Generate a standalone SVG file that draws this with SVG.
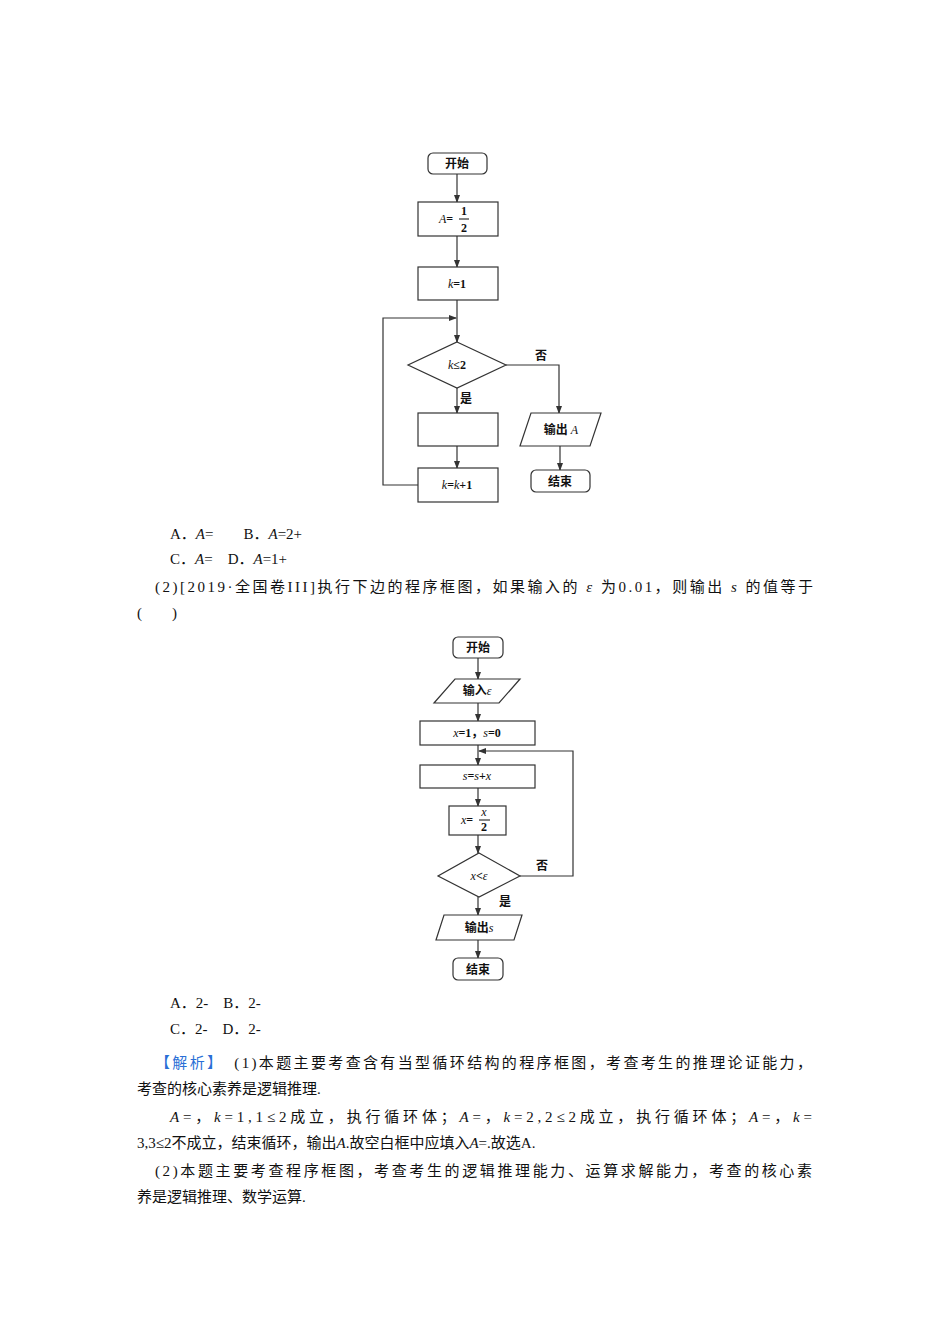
<svg xmlns="http://www.w3.org/2000/svg" width="950" height="1344" viewBox="0 0 950 1344">
<defs><marker id="ar" markerWidth="8" markerHeight="6" refX="7" refY="3" orient="auto" markerUnits="userSpaceOnUse"><path d="M0,0 L8,3 L0,6 Z" fill="#333"/></marker></defs>
<style>
.s{fill:#fff;stroke:#333;stroke-width:1.2}
.c{fill:none;stroke:#333;stroke-width:1.2;marker-end:url(#ar)}
.l{fill:none;stroke:#333;stroke-width:1.2}
.t{font-family:"Liberation Serif","Noto Sans CJK SC",serif;font-size:12px;text-anchor:middle;fill:#111;font-weight:bold}
.i{font-style:italic;font-weight:normal}
.b{font-family:"Liberation Serif","Noto Sans CJK SC",serif;font-size:15px;fill:#111}
</style>
<rect width="950" height="1344" fill="#fff"/>
<g id="connectors">
<path class="c" d="M457,174 V202"/><path class="c" d="M457,236 V267"/><path class="c" d="M457,300 V342"/>
<path class="c" d="M418,485 H383 V318 H456"/>
<path class="c" d="M506,365 H559 V413"/><path class="c" d="M457,388 V413"/><path class="c" d="M457,446 V468"/>
<path class="c" d="M560,446 V470"/>
<path class="c" d="M478,658 V679"/><path class="c" d="M478,703 V721"/><path class="c" d="M478,745 V765"/>
<path class="c" d="M520,876 H573 V751 H479"/>
<path class="c" d="M478,788 V806"/><path class="c" d="M478,835 V853"/><path class="c" d="M478,897 V915"/><path class="c" d="M478,940 V958"/>
</g>
<g id="n1"><rect class="s" x="428" y="153" width="59" height="21" rx="5"/><text class="t" x="457" y="168">开始</text></g>
<g id="n2"><rect class="s" x="418" y="202" width="80" height="34"/><text class="t" x="446" y="223"><tspan class="i">A</tspan>=</text><text class="t" x="464" y="215">1</text><line class="l" x1="459" y1="219" x2="469" y2="219"/><text class="t" x="464" y="232">2</text></g>
<g id="n3"><rect class="s" x="418" y="267" width="80" height="33"/><text class="t" x="457" y="288"><tspan class="i">k</tspan>=1</text></g>
<g id="n4"><polygon class="s" points="457,342 506,365 457,388 408,365"/><text class="t" x="457" y="369"><tspan class="i">k</tspan>≤2</text></g>
<text class="t" x="541" y="360">否</text><text class="t" x="466" y="403">是</text>
<g id="n5"><rect class="s" x="418" y="413" width="80" height="33"/></g>
<g id="n6"><rect class="s" x="418" y="468" width="80" height="34"/><text class="t" x="457" y="489"><tspan class="i">k</tspan>=<tspan class="i">k</tspan>+1</text></g>
<g id="n7"><polygon class="s" points="531,413 601,413 590,446 520,446"/><text class="t" x="561" y="434">输出 <tspan class="i">A</tspan></text></g>
<g id="n8"><rect class="s" x="531" y="470" width="59" height="22" rx="5"/><text class="t" x="560" y="486">结束</text></g>

<g id="m1"><rect class="s" x="453" y="637" width="50" height="21" rx="5"/><text class="t" x="478" y="652">开始</text></g>
<g id="m2"><polygon class="s" points="455,679 520,679 499,703 434,703"/><text class="t" x="477" y="695">输入<tspan class="i">ε</tspan></text></g>
<g id="m3"><rect class="s" x="420" y="721" width="115" height="24"/><text class="t" x="477" y="737"><tspan class="i">x</tspan>=1，<tspan class="i">s</tspan>=0</text></g>
<g id="m4"><rect class="s" x="420" y="765" width="115" height="23"/><text class="t" x="477" y="780" font-size="10"><tspan class="i">s</tspan>=<tspan class="i">s</tspan>+<tspan class="i">x</tspan></text></g>
<g id="m5"><rect class="s" x="449" y="806" width="57" height="29"/><text class="t" x="467" y="824"><tspan class="i">x</tspan>=</text><text class="t i" x="484" y="816" font-size="10">x</text><line class="l" x1="479" y1="820" x2="490" y2="820"/><text class="t" x="484" y="831">2</text></g>
<g id="m6"><polygon class="s" points="479,853 520,876 479,897 438,876"/><text class="t" x="479" y="880"><tspan class="i">x</tspan>&lt;<tspan class="i">ε</tspan></text></g>
<text class="t" x="542" y="870">否</text><text class="t" x="505" y="906">是</text>
<g id="m7"><polygon class="s" points="444,915 522,915 514,940 436,940"/><text class="t" x="479" y="932">输出<tspan class="i">s</tspan></text></g>
<g id="m8"><rect class="s" x="453" y="958" width="50" height="22" rx="5"/><text class="t" x="478" y="974">结束</text></g>

<g id="text">
<text class="b" x="170" y="539">A．<tspan font-style="italic">A</tspan>=　　B．<tspan font-style="italic">A</tspan>=2+</text>
<text class="b" x="170" y="564">C．<tspan font-style="italic">A</tspan>=　D．<tspan font-style="italic">A</tspan>=1+</text>
<text class="b" x="155" y="592" textLength="658">(2)[2019·全国卷III]执行下边的程序框图，如果输入的 <tspan font-style="italic">ε</tspan> 为0.01，则输出 <tspan font-style="italic">s</tspan> 的值等于</text>
<text class="b" x="137" y="618">(　　)</text>
<text class="b" x="170" y="1008">A．2-　B．2-</text>
<text class="b" x="170" y="1034">C．2-　D．2-</text>
<text class="b" x="155" y="1068" textLength="657"><tspan fill="#2a6fd6">【解析】</tspan>　(1)本题主要考查含有当型循环结构的程序框图，考查考生的推理论证能力，</text>
<text class="b" x="137" y="1094">考查的核心素养是逻辑推理.</text>
<text class="b" x="170" y="1122" textLength="642"><tspan font-style="italic">A</tspan>=，<tspan font-style="italic">k</tspan>=1,1≤2成立，执行循环体；<tspan font-style="italic">A</tspan>=，<tspan font-style="italic">k</tspan>=2,2≤2成立，执行循环体；<tspan font-style="italic">A</tspan>=，<tspan font-style="italic">k</tspan>=</text>
<text class="b" x="137" y="1148">3,3≤2不成立，结束循环，输出<tspan font-style="italic">A</tspan>.故空白框中应填入<tspan font-style="italic">A</tspan>=.故选A.</text>
<text class="b" x="155" y="1176" textLength="657">(2)本题主要考查程序框图，考查考生的逻辑推理能力、运算求解能力，考查的核心素</text>
<text class="b" x="137" y="1202">养是逻辑推理、数学运算.</text>
</g>
</svg>
